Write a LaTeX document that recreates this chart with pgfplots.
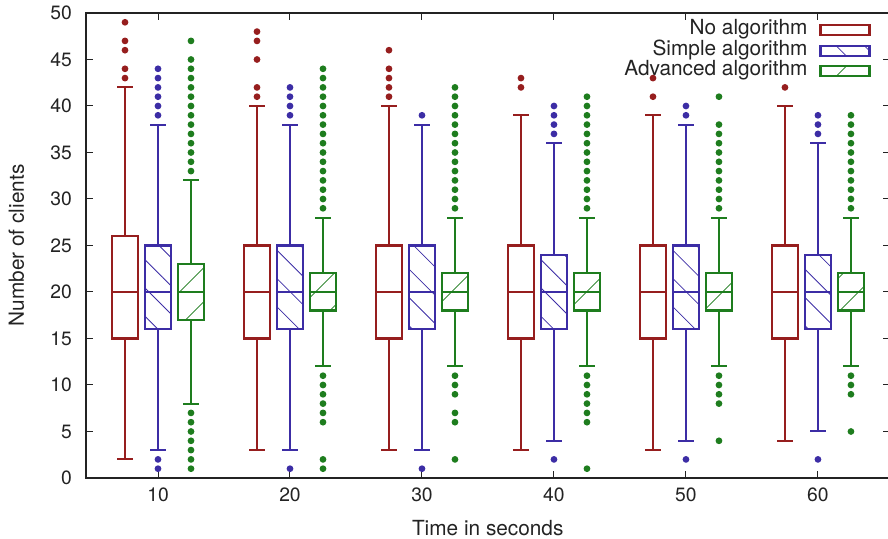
\documentclass[border=0pt]{standalone}
\usepackage{fontspec}
\setmainfont{TeX Gyre Heros}
\usepackage{pgfplots}
\pgfplotsset{compat=1.18}
\usepgfplotslibrary{statistics}
\usetikzlibrary{patterns.meta}
\definecolor{cred}{RGB}{150,30,30}
\definecolor{cblue}{RGB}{60,45,165}
\definecolor{cgreen}{RGB}{30,125,30}
\definecolor{axgray}{RGB}{35,35,35}
\pgfplotsset{
  boxplot/draw direction=y,
  boxplot/every box/.append style={line width=2.2bp, line cap=rect, line join=miter},
  boxplot/every whisker/.append style={line width=2bp},
  boxplot/every median/.append style={line width=2.2bp},
  rbox/.style={color=cred, line width=2bp, mark=*, mark size=2.3bp,
    mark options={solid, draw=none, fill=cred},
    legend image code/.code={\draw[cred, line width=2.2bp] (0bp,-5bp) rectangle (49bp,5bp);}},
  bbox/.style={color=cblue, line width=2bp, mark=*, mark size=2.3bp,
    mark options={solid, draw=none, fill=cblue},
    boxplot/every box/.append style={pattern={Lines[angle=-45,distance=20bp,line width=0.8bp]}, pattern color=cblue},
    legend image code/.code={\draw[cblue, line width=2.2bp, pattern={Lines[angle=-45,distance=20bp,line width=0.8bp]}, pattern color=cblue] (0bp,-5bp) rectangle (49bp,5bp);}},
  gbox/.style={color=cgreen, line width=2bp, mark=*, mark size=2.3bp,
    mark options={solid, draw=none, fill=cgreen},
    boxplot/every box/.append style={pattern={Lines[angle=45,distance=24bp,line width=0.8bp]}, pattern color=cgreen},
    legend image code/.code={\draw[cgreen, line width=2.2bp, pattern={Lines[angle=45,distance=24bp,line width=0.8bp]}, pattern color=cgreen] (0bp,-5bp) rectangle (49bp,5bp);}},
  bxp/.style n args={6}{boxplot prepared={draw direction=y, draw position=#1, lower whisker=#2, lower quartile=#3, median=#4, upper quartile=#5, upper whisker=#6, box extend=2, whisker extend=1.2}},
}
\begin{document}
\begin{tikzpicture}
\begin{axis}[
  scale only axis,
  width=803.5bp, height=465bp,
  xmin=4.545, xmax=65.42, ymin=0, ymax=50,
  xtick={10,20,30,40,50,60},
  ytick={0,5,...,50},
  tick align=inside,
  major tick length=7bp,
  axis line style={axgray, line width=1.3bp},
  every tick/.style={axgray, line width=1bp},
  /pgf/number format/assume math mode=true,
  tick label style={font=\fontsize{19.3bp}{23bp}\selectfont, text=axgray},
  every x tick label/.append style={inner sep=0pt, yshift=-10bp},
  every y tick label/.append style={inner sep=0pt, xshift=-14bp},
  xlabel={Time in seconds},
  ylabel={Number of clients},
  every axis x label/.style={at={(axis description cs:0.5,-0.1226)}, anchor=base, font=\fontsize{20.8bp}{25bp}\selectfont, text=axgray},
  every axis y label/.style={at={(axis description cs:-0.0772,0.5)}, rotate=90, anchor=base, font=\fontsize{20.8bp}{25bp}\selectfont, text=axgray},
  legend style={at={(axis description cs:0.9765,0.985)}, anchor=north east, draw=none, fill=none,
    inner sep=0pt, outer sep=0pt, font=\fontsize{20.8bp}{25bp}\selectfont, text=axgray,
    row sep=0pt, column sep=12bp,
    nodes={inner sep=0pt, outer sep=0pt, text height=15bp, text depth=5.5bp}},
  legend cell align=right,
  legend plot pos=right,
]
% ---- t = 10
\addplot[rbox, bxp={7.5}{2}{15}{20}{26}{42}] table[row sep=\\,y index=0] {49\\47\\46\\44\\43\\};
\addlegendentry{No algorithm}
\addplot[bbox, bxp={10}{3}{16}{20}{25}{38}] table[row sep=\\,y index=0] {44\\43\\42\\41\\40\\39\\2\\1\\};
\addlegendentry{Simple algorithm}
\addplot[gbox, bxp={12.5}{8}{17}{20}{23}{32}] table[row sep=\\,y index=0] {47\\45\\44\\43\\42\\41\\40\\39\\38\\37\\36\\35\\34\\33\\7\\6\\5\\4\\3\\2\\1\\};
\addlegendentry{Advanced algorithm}
% ---- t = 20
\addplot[rbox, forget plot, bxp={17.5}{3}{15}{20}{25}{40}] table[row sep=\\,y index=0] {48\\47\\45\\42\\41\\};
\addplot[bbox, forget plot, bxp={20}{3}{16}{20}{25}{38}] table[row sep=\\,y index=0] {42\\41\\40\\39\\1\\};
\addplot[gbox, forget plot, bxp={22.5}{12}{18}{20}{22}{28}] table[row sep=\\,y index=0] {44\\43\\42\\41\\40\\39\\38\\37\\36\\35\\34\\33\\32\\31\\30\\29\\11\\10\\9\\8\\7\\6\\2\\1\\};
% ---- t = 30
\addplot[rbox, forget plot, bxp={27.5}{3}{15}{20}{25}{40}] table[row sep=\\,y index=0] {46\\44\\43\\42\\41\\};
\addplot[bbox, forget plot, bxp={30}{3}{16}{20}{25}{38}] table[row sep=\\,y index=0] {39\\1\\};
\addplot[gbox, forget plot, bxp={32.5}{12}{18}{20}{22}{28}] table[row sep=\\,y index=0] {42\\41\\40\\39\\38\\37\\36\\35\\34\\33\\32\\31\\30\\29\\11\\10\\9\\7\\6\\2\\};
% ---- t = 40
\addplot[rbox, forget plot, bxp={37.5}{3}{15}{20}{25}{39}] table[row sep=\\,y index=0] {43\\42\\};
\addplot[bbox, forget plot, bxp={40}{4}{16}{20}{24}{36}] table[row sep=\\,y index=0] {40\\39\\38\\37\\2\\};
\addplot[gbox, forget plot, bxp={42.5}{12}{18}{20}{22}{28}] table[row sep=\\,y index=0] {41\\40\\39\\38\\37\\36\\35\\34\\33\\32\\31\\30\\29\\11\\10\\9\\8\\7\\6\\1\\};
% ---- t = 50
\addplot[rbox, forget plot, bxp={47.5}{3}{15}{20}{25}{39}] table[row sep=\\,y index=0] {43\\41\\};
\addplot[bbox, forget plot, bxp={50}{4}{16}{20}{25}{38}] table[row sep=\\,y index=0] {40\\39\\2\\};
\addplot[gbox, forget plot, bxp={52.5}{12}{18}{20}{22}{28}] table[row sep=\\,y index=0] {41\\38\\37\\36\\35\\34\\33\\32\\31\\30\\29\\11\\10\\9\\8\\4\\};
% ---- t = 60
\addplot[rbox, forget plot, bxp={57.5}{4}{15}{20}{25}{40}] table[row sep=\\,y index=0] {42\\};
\addplot[bbox, forget plot, bxp={60}{5}{16}{20}{24}{36}] table[row sep=\\,y index=0] {39\\38\\37\\2\\};
\addplot[gbox, forget plot, bxp={62.5}{12}{18}{20}{22}{28}] table[row sep=\\,y index=0] {39\\38\\37\\36\\35\\34\\33\\32\\31\\30\\29\\11\\10\\9\\5\\};
\end{axis}
\pgfresetboundingbox
\path[use as bounding box] ([xshift=-86bp,yshift=-61bp]current axis.south west) rectangle ([xshift=-1.5bp,yshift=13bp]current axis.north east);
\end{tikzpicture}
\end{document}
